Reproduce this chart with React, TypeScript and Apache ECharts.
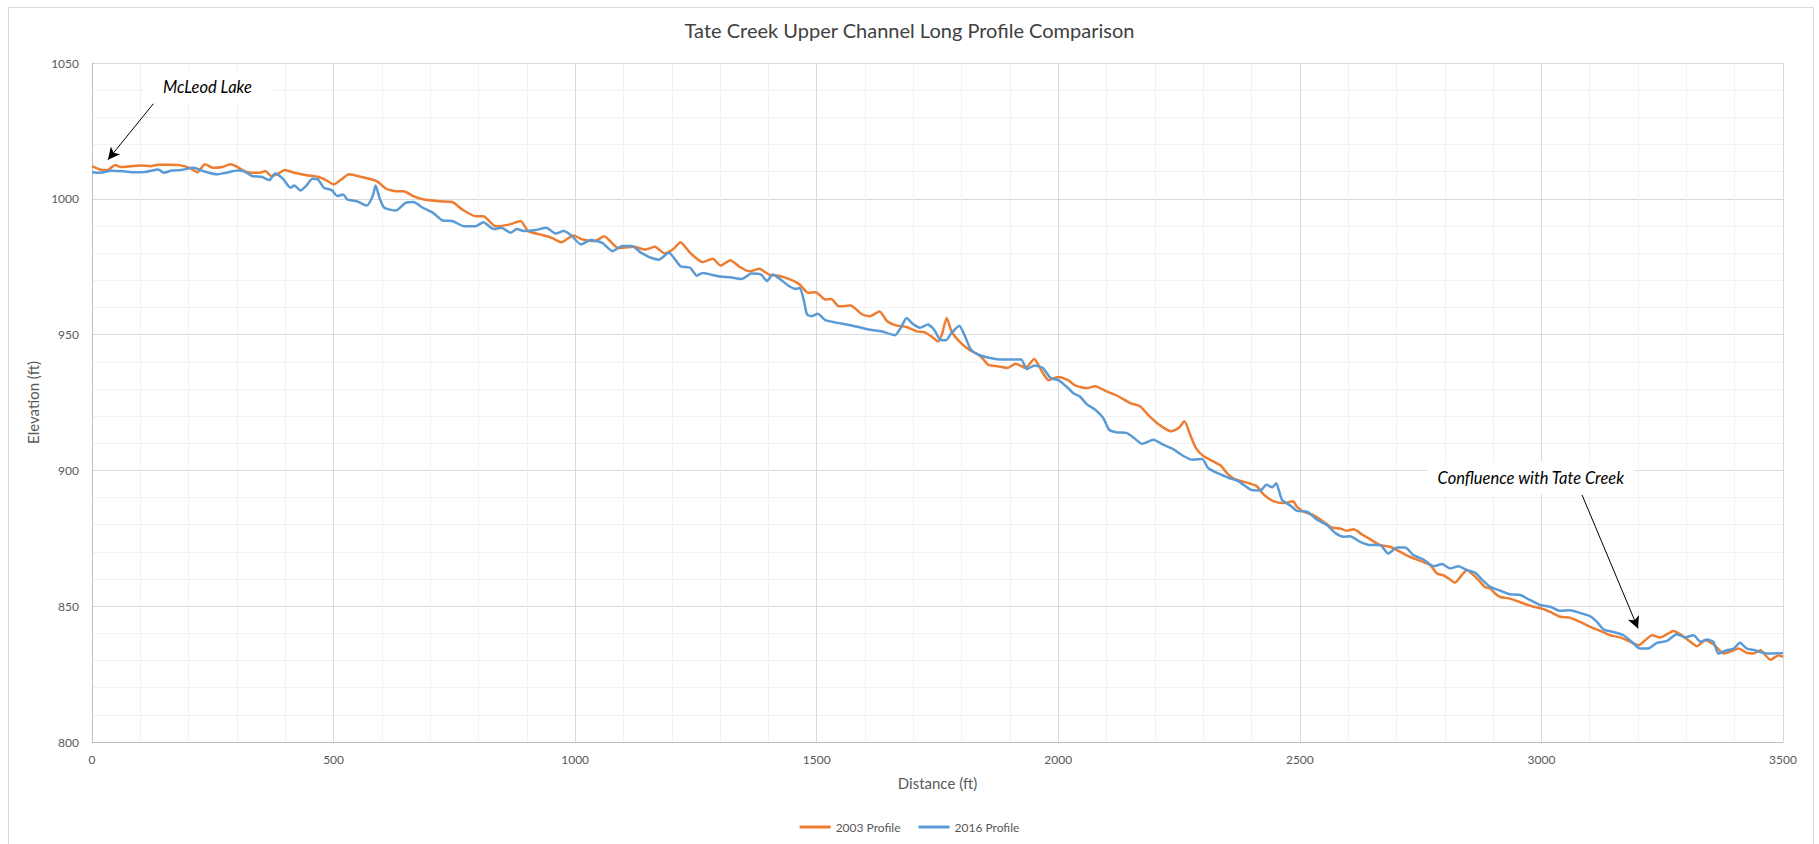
import React, { useEffect, useRef } from "react";
import * as echarts from "echarts";

const chartTitle = "Tate Creek Upper Channel Long Profile Comparison";
const seriesNames = ["2003 Profile", "2016 Profile"];
const seriesColors = ["#ED7D31", "#5B9BD5"];

const dist2003 = [
  0, 16, 32, 48, 60, 80, 100, 121, 137, 157, 181, 202, 218, 234, 250, 270, 286, 298, 315, 331, 347, 359, 371, 383, 399,
  419, 444, 468, 484, 500, 516, 532, 556, 589, 609, 629, 645, 665, 685, 718, 746, 766, 794, 810, 835, 863, 887, 903, 927,
  952, 972, 996, 1016, 1040, 1060, 1089, 1121, 1145, 1165, 1185, 1202, 1218, 1238, 1264, 1285, 1301, 1321, 1341, 1361,
  1381, 1401, 1425, 1445, 1465, 1482, 1498, 1518, 1530, 1546, 1570, 1594, 1610, 1630, 1646, 1666, 1686, 1707, 1723, 1739,
  1751, 1759, 1769, 1779, 1795, 1815, 1839, 1855, 1875, 1895, 1912, 1932, 1950, 1968, 1980, 2000, 2020, 2036, 2060, 2076,
  2100, 2124, 2149, 2169, 2189, 2209, 2233, 2249, 2261, 2273, 2285, 2301, 2321, 2337, 2349, 2365, 2389, 2410, 2426, 2446,
  2466, 2486, 2494, 2508, 2528, 2549, 2566, 2583, 2597, 2611, 2628, 2646, 2666, 2687, 2708, 2728, 2749, 2770, 2784, 2797,
  2808, 2821, 2835, 2846, 2856, 2870, 2883, 2894, 2904, 2915, 2935, 2963, 2984, 3001, 3018, 3039, 3059, 3080, 3101, 3122,
  3142, 3163, 3184, 3201, 3215, 3229, 3246, 3260, 3273, 3287, 3304, 3322, 3339, 3356, 3377, 3394, 3408, 3425, 3439, 3453,
  3474, 3491, 3500,
];
const elev2003 = [
  1012.0, 1010.8, 1010.6, 1012.4, 1011.7, 1012.0, 1012.3, 1012.0, 1012.5, 1012.5, 1012.4, 1011.4, 1009.8, 1012.7, 1011.4,
  1011.7, 1012.7, 1012.0, 1010.2, 1009.6, 1009.6, 1010.2, 1008.4, 1009.0, 1010.6, 1009.6, 1008.7, 1008.1, 1006.9, 1005.3,
  1007.1, 1009.0, 1008.1, 1006.5, 1003.7, 1002.8, 1002.8, 1001.0, 999.8, 999.1, 998.8, 996.1, 993.6, 993.6, 989.9, 990.5,
  991.8, 988.1, 986.9, 985.6, 984.0, 986.5, 985.0, 984.4, 986.2, 981.9, 982.3, 981.3, 982.3, 979.9, 981.3, 984.0, 980.1,
  976.7, 977.9, 975.4, 977.4, 974.9, 973.3, 974.2, 972.1, 971.5, 970.3, 968.4, 965.4, 965.6, 962.9, 963.1, 960.4, 960.7,
  957.4, 956.8, 958.5, 954.9, 953.3, 952.8, 951.2, 950.9, 949.1, 947.5, 950.0, 956.1, 951.2, 947.5, 944.5, 942.0, 938.9,
  938.3, 937.7, 939.3, 937.7, 941.0, 935.9, 933.2, 934.4, 933.2, 931.2, 930.3, 931.0, 929.1, 927.3, 924.8, 923.6, 919.9,
  916.8, 914.4, 915.6, 918.1, 913.1, 908.2, 905.2, 903.3, 901.7, 899.0, 896.8, 895.6, 894.3, 891.0, 888.6, 888.0, 888.6,
  886.6, 884.8, 883.5, 881.1, 879.0, 878.6, 877.8, 878.3, 876.5, 874.6, 872.5, 871.9, 870.0, 868.2, 866.7, 865.1, 862.0,
  861.4, 860.2, 858.7, 861.4, 863.3, 862.0, 859.6, 857.1, 856.5, 854.7, 853.4, 852.8, 851.0, 849.8, 849.1, 847.9, 846.1,
  845.8, 844.2, 842.4, 840.9, 839.3, 838.5, 836.9, 835.6, 837.5, 839.3, 838.5, 839.7, 840.9, 839.7, 837.5, 835.3, 837.5,
  836.0, 832.6, 833.5, 834.4, 832.8, 832.6, 833.8, 830.3, 831.9, 831.3,
];

const dist2016 = [
  0, 16, 40, 65, 89, 113, 137, 149, 165, 185, 210, 230, 258, 278, 302, 315, 331, 351, 367, 379, 395, 411, 419, 431, 444,
  456, 468, 480, 496, 508, 520, 528, 548, 569, 581, 587, 595, 605, 629, 649, 665, 685, 706, 726, 746, 770, 794, 810, 831,
  847, 867, 879, 895, 919, 940, 960, 976, 992, 1012, 1032, 1056, 1077, 1097, 1117, 1137, 1157, 1173, 1194, 1218, 1238,
  1252, 1264, 1296, 1321, 1345, 1365, 1385, 1397, 1409, 1425, 1445, 1457, 1465, 1473, 1480, 1490, 1502, 1518, 1538, 1562,
  1586, 1610, 1634, 1662, 1674, 1686, 1698, 1714, 1730, 1743, 1755, 1767, 1779, 1795, 1807, 1819, 1839, 1859, 1883, 1903,
  1923, 1935, 1951, 1968, 1984, 2000, 2016, 2032, 2044, 2060, 2076, 2093, 2105, 2121, 2141, 2157, 2173, 2197, 2217, 2237,
  2258, 2278, 2298, 2310, 2330, 2354, 2374, 2398, 2418, 2431, 2443, 2451, 2463, 2483, 2494, 2515, 2535, 2556, 2573, 2590,
  2604, 2625, 2646, 2666, 2683, 2701, 2718, 2735, 2756, 2777, 2794, 2811, 2828, 2846, 2863, 2877, 2894, 2915, 2935, 2956,
  2977, 2998, 3018, 3039, 3059, 3080, 3101, 3115, 3129, 3149, 3170, 3187, 3204, 3221, 3239, 3260, 3280, 3297, 3315, 3329,
  3343, 3356, 3366, 3384, 3398, 3411, 3425, 3442, 3460, 3480, 3500,
];
const elev2016 = [
  1009.8, 1009.6, 1010.3, 1010.1, 1009.8, 1010.0, 1010.8, 1009.6, 1010.4, 1010.6, 1011.4, 1010.2, 1009.0, 1009.6, 1010.4,
  1010.1, 1008.4, 1008.1, 1006.9, 1009.3, 1007.4, 1004.1, 1004.9, 1003.1, 1004.9, 1007.4, 1007.1, 1004.1, 1003.2, 1001.0,
  1001.6, 999.8, 999.1, 997.5, 1001.0, 1004.9, 1000.4, 996.7, 995.7, 998.5, 998.8, 996.7, 994.8, 992.0, 991.8, 989.9, 989.9,
  991.4, 988.9, 989.3, 987.5, 988.9, 988.1, 988.5, 989.3, 987.2, 988.1, 986.5, 983.2, 984.8, 983.8, 980.7, 982.6, 982.6,
  980.1, 978.3, 977.6, 980.1, 975.2, 974.6, 971.7, 972.7, 971.5, 971.1, 970.5, 972.5, 972.1, 969.7, 972.1, 970.3, 967.6,
  966.8, 967.2, 962.9, 957.4, 956.8, 957.7, 955.3, 954.5, 953.7, 952.8, 951.8, 951.2, 949.8, 952.5, 956.1, 954.1, 952.5,
  953.7, 951.8, 948.2, 947.9, 950.6, 953.3, 949.4, 944.5, 942.3, 941.4, 940.8, 940.8, 940.8, 937.3, 938.6, 937.7, 934.0,
  933.2, 931.0, 928.3, 927.3, 924.2, 922.4, 919.3, 915.0, 914.0, 913.8, 911.9, 909.8, 911.3, 909.5, 907.9, 905.4, 903.9,
  904.2, 900.9, 899.0, 897.2, 895.9, 892.9, 892.6, 894.7, 893.8, 895.3, 889.2, 886.7, 885.1, 884.8, 881.9, 879.9, 877.0,
  875.6, 875.8, 873.7, 872.5, 872.5, 869.4, 871.6, 871.6, 868.8, 867.2, 864.7, 865.5, 863.9, 864.7, 863.3, 862.3, 859.8,
  857.1, 855.7, 854.4, 854.1, 852.2, 850.4, 849.8, 848.3, 848.5, 847.5, 846.3, 844.2, 841.4, 840.5, 839.3, 836.9, 834.4,
  834.4, 836.5, 837.2, 839.7, 838.5, 839.3, 836.9, 837.7, 836.9, 832.6, 833.8, 834.4, 836.5, 834.4, 833.8, 832.8, 832.6,
  832.8,
];

// Annotation texts and their anchor points in data units (distance ft, elevation ft)
const annotationTexts = ["McLeod Lake", "Confluence with Tate Creek"];
const annotationLabelAt = [
  [239, 1041.1],
  [2978, 897.2],
];
const annotationArrowFrom = [
  [137, 1037.2],
  [3084, 891],
];
const annotationArrowTo = [
  [33, 1014.4],
  [3200, 841.8],
];

const FONT = "Lato, 'Open Sans', sans-serif";

export default function App() {
  const ref = useRef<HTMLDivElement>(null);
  useEffect(() => {
    if (!ref.current) return;
    const chart = echarts.init(ref.current, undefined, { renderer: "svg" });
    const zip = (xs: number[], ys: number[]) => xs.map((x, i) => [x, ys[i]]);
    const plain = (v: number) => String(v);
    const option: any = {
      animation: false,
      backgroundColor: "#ffffff",
      textStyle: { fontFamily: FONT },
      title: {
        text: chartTitle,
        left: "center",
        top: 20,
        padding: 0,
        textStyle: { fontFamily: FONT, fontSize: 20, fontWeight: "normal", color: "#404040" },
      },
      graphic: [
        {
          type: "rect",
          shape: { x: 8.5, y: 7.5, width: 1805, height: 850 },
          style: { fill: "none", stroke: "#d9d9d9", lineWidth: 1 },
          silent: true,
        },
      ],
      legend: {
        data: seriesNames,
        left: "center",
        top: 816,
        icon: "rect",
        itemWidth: 31,
        itemHeight: 3,
        itemGap: 18,
        textStyle: { fontFamily: FONT, fontSize: 12, color: "#595959" },
      },
      grid: { left: 92, right: 36, top: 63, bottom: 102, containLabel: false },
      xAxis: {
        type: "value",
        min: 0,
        max: 3500,
        interval: 500,
        name: "Distance (ft)",
        nameLocation: "middle",
        nameGap: 33,
        nameTextStyle: { fontFamily: FONT, fontSize: 15, color: "#595959" },
        axisLine: { show: true, lineStyle: { color: "#bfbfbf", width: 1 } },
        axisTick: { show: false },
        axisLabel: { fontFamily: FONT, fontSize: 12, color: "#595959", margin: 11, formatter: plain },
        splitLine: { show: true, lineStyle: { color: "#d9d9d9", width: 1 } },
        minorTick: { show: false, splitNumber: 5 },
        minorSplitLine: { show: true, lineStyle: { color: "#f2f2f2", width: 1 } },
      },
      yAxis: {
        type: "value",
        min: 800,
        max: 1050,
        interval: 50,
        name: "Elevation (ft)",
        nameLocation: "middle",
        nameGap: 46,
        nameTextStyle: { fontFamily: FONT, fontSize: 15, color: "#595959" },
        axisLine: { show: true, lineStyle: { color: "#bfbfbf", width: 1 } },
        axisTick: { show: false },
        axisLabel: { fontFamily: FONT, fontSize: 12, color: "#595959", margin: 13, formatter: plain },
        splitLine: { show: true, lineStyle: { color: "#d9d9d9", width: 1 } },
        minorTick: { show: false, splitNumber: 5 },
        minorSplitLine: { show: true, lineStyle: { color: "#f2f2f2", width: 1 } },
      },
      series: [
        {
          name: seriesNames[0],
          type: "line",
          data: zip(dist2003, elev2003),
          showSymbol: false,
          symbol: "none",
          smooth: 0.2,
          color: seriesColors[0],
          lineStyle: { color: seriesColors[0], width: 2.5, join: "round" },
          silent: true,
        },
        {
          name: seriesNames[1],
          type: "line",
          data: zip(dist2016, elev2016),
          showSymbol: false,
          symbol: "none",
          smooth: 0.2,
          color: seriesColors[1],
          lineStyle: { color: seriesColors[1], width: 2.5, join: "round" },
          silent: true,
        },
        {
          name: "annotations",
          type: "line",
          data: [],
          silent: true,
          markLine: {
            silent: true,
            symbol: ["none", "arrow"],
            symbolSize: [9, 12],
            label: { show: false },
            lineStyle: { color: "#000000", width: 1, type: "solid" },
            data: annotationArrowFrom.map((from, i) => [
              { coord: from },
              { coord: annotationArrowTo[i] },
            ]),
          },
          markPoint: {
            silent: true,
            symbol: "rect",
            symbolSize: 0,
            data: annotationLabelAt.map((c, i) => ({
              coord: c,
              label: {
                show: true,
                position: "inside",
                formatter: annotationTexts[i],
                fontFamily: FONT,
                fontSize: 16.5,
                fontStyle: "italic",
                color: "#000000",
                backgroundColor: "#ffffff",
                padding: i === 0 ? [8, 20] : [8, 10],
              },
            })),
          },
        },
      ],
    };
    chart.setOption(option);
    return () => chart.dispose();
  }, []);
  return (
    <div
      ref={ref}
      style={{ position: "absolute", left: 0, top: 0, width: 1819, height: 844 }}
    />
  );
}
